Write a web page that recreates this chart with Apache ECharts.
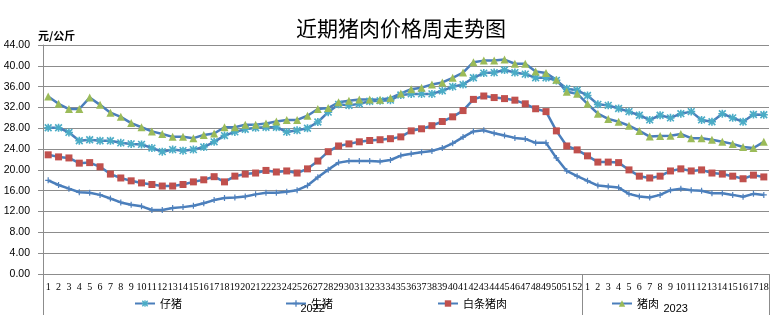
<!DOCTYPE html>
<html>
<head>
<meta charset="utf-8">
<script src="https://cdn.jsdelivr.net/npm/echarts@6/dist/echarts.min.js"></script>
<style>
html,body{margin:0;padding:0;background:#fff;}
#c{width:782px;height:326px;}
</style>
</head>
<body>
<div id="c"></div>
<script>
// ---- data ----
const years = ['2022', '2023'];
const yearWeeks = [52, 18];
const yTicks = [0, 4, 8, 12, 16, 20, 24, 28, 32, 36, 40, 44];

const piglet2022 = [28.1,28.1,27.2,25.6,25.8,25.6,25.6,25.2,25.0,24.9,24.2,23.5,23.9,23.7,23.9,24.4,25.4,26.6,27.3,27.8,28.1,28.2,28.2,27.3,27.6,28.0,29.2,31.1,32.6,32.4,32.7,33.2,33.3,33.4,34.4,34.6,34.6,34.6,35.2,36.0,36.4,37.7,38.6,38.7,39.2,38.7,38.4,37.7,37.7,37.2,35.6,35.3];
const piglet2023 = [34.3,32.6,32.4,31.8,31.2,30.5,29.6,30.5,30.0,30.8,31.2,29.6,29.25,30.8,30.0,29.25,30.65,30.6];

const hog2022 = [18.0,17.1,16.4,15.7,15.6,15.2,14.5,13.75,13.3,13.0,12.3,12.3,12.7,12.85,13.1,13.6,14.2,14.6,14.7,14.9,15.3,15.6,15.6,15.8,16.1,17.0,18.6,20.05,21.4,21.7,21.7,21.7,21.6,21.9,22.75,23.1,23.4,23.65,24.2,25.1,26.3,27.4,27.6,27.05,26.6,26.15,25.95,25.2,25.2,22.3,19.8,18.8];
const hog2023 = [17.9,17.0,16.8,16.6,15.4,14.9,14.7,15.2,16.1,16.4,16.1,16.0,15.5,15.5,15.2,14.85,15.4,15.2];

const carcass2022 = [22.9,22.5,22.3,21.3,21.4,20.6,19.2,18.45,17.9,17.5,17.2,16.9,16.9,17.2,17.7,18.1,18.7,17.7,18.8,19.2,19.4,19.9,19.6,19.8,19.4,20.2,21.7,23.5,24.6,25.0,25.4,25.65,25.8,26.0,26.35,27.5,27.9,28.5,29.3,30.2,31.4,33.55,34.2,33.9,33.7,33.4,32.7,31.75,31.2,27.5,24.6,23.85];
const carcass2023 = [22.7,21.5,21.5,21.4,20.0,18.8,18.45,18.8,19.8,20.2,19.8,20.0,19.4,19.2,18.8,18.3,19.0,18.65];

const pork2022 = [34.1,32.7,31.7,31.7,33.9,32.5,31.0,30.2,29.0,28.2,27.4,26.9,26.35,26.35,26.1,26.7,27.0,28.2,28.2,28.7,28.7,28.9,29.3,29.6,29.6,30.4,31.7,31.9,33.0,33.3,33.55,33.55,33.5,33.8,34.7,35.5,35.8,36.4,36.8,37.7,38.7,40.7,41.0,41.0,41.2,40.4,40.4,38.9,38.6,37.3,35.0,34.65];
const pork2023 = [32.7,30.8,29.8,29.25,28.5,27.5,26.4,26.5,26.55,26.9,26.1,26.1,25.8,25.4,25.0,24.4,24.2,25.4];

const seriesNames = ['仔猪', '生猪', '白条猪肉', '猪肉'];

// ---- build ----
const categories = [];
yearWeeks.forEach(n => { for (let i = 1; i <= n; i++) categories.push(String(i)); });
const total = categories.length;
const boundaries = [0];
yearWeeks.forEach(n => boundaries.push(boundaries[boundaries.length - 1] + n));
const yearCenters = yearWeeks.map((n, i) => boundaries[i] + n / 2);

const lineColor = '#4a7ebb';
const asterisk = 'path://M-1,-5L1,-5L1,5L-1,5Z M-5,-1L5,-1L5,1L-5,1Z M-3.5,-4.9L4.9,3.5L3.5,4.9L-4.9,-3.5Z M3.5,-4.9L4.9,-3.5L-3.5,4.9L-4.9,3.5Z';
const plus = 'path://M-1,-5L1,-5L1,5L-1,5Z M-5,-1L5,-1L5,1L-5,1Z';

function mk(name, data, symbol, size, color) {
  return {
    name, type: 'line', data, xAxisIndex: 0, yAxisIndex: 0,
    symbol, symbolSize: size, showAllSymbol: true,
    lineStyle: { color: lineColor, width: 2.5 },
    itemStyle: { color },
    emphasis: { disabled: true },
    animation: false
  };
}

const grid = '#8c8c8c';
const legendBase = { top: 293, itemWidth: 20, itemHeight: 8, textStyle: { fontSize: 11, color: '#000', fontFamily: 'Noto Sans CJK SC' }, selectedMode: false };

const option = {
  animation: false,
  title: {
    text: '近期猪肉价格周走势图', left: 291, top: 13,
    textStyle: { fontSize: 21, fontWeight: 'normal', color: '#000', fontFamily: 'Noto Sans CJK SC' }
  },
  legend: [
    Object.assign({ data: [seriesNames[0]], left: 129 }, legendBase),
    Object.assign({ data: [seriesNames[1]], left: 280 }, legendBase),
    Object.assign({ data: [seriesNames[2]], left: 432 }, legendBase),
    Object.assign({ data: [seriesNames[3]], left: 606 }, legendBase)
  ],
  grid: { left: 43, right: 13, top: 45, bottom: 52, containLabel: false },
  xAxis: [
    {
      type: 'category', data: categories, boundaryGap: true, position: 'bottom',
      axisLine: { lineStyle: { color: grid } },
      axisTick: { show: false },
      axisLabel: { interval: 0, hideOverlap: false, fontSize: 10, color: '#000', fontFamily: 'Liberation Serif', margin: 8 },
      splitLine: { show: false }
    },
    {
      type: 'value', min: 0, max: total, position: 'bottom', offset: 0,
      axisLine: { show: false },
      axisTick: { show: true, customValues: boundaries, length: 41, lineStyle: { color: grid } },
      axisLabel: {
        customValues: yearCenters, margin: 29, fontSize: 11, color: '#000', fontFamily: 'Liberation Sans',
        formatter: v => { const i = yearCenters.indexOf(v); return i >= 0 ? years[i] : ''; }
      },
      splitLine: { show: false }
    }
  ],
  yAxis: {
    type: 'value', min: yTicks[0], max: yTicks[yTicks.length - 1], interval: 4,
    name: '元/公斤', nameLocation: 'end', nameGap: 4, nameMoveOverlap: false,
    nameTextStyle: { fontSize: 11, fontWeight: 'bold', color: '#000', align: 'left', padding: [0, 0, 0, -5], fontFamily: 'Noto Sans CJK SC' },
    axisLine: { show: true, lineStyle: { color: grid } },
    axisTick: { show: true, length: 5, lineStyle: { color: grid } },
    axisLabel: { formatter: v => v.toFixed(2), fontSize: 10.5, color: '#000', margin: 13, showMaxLabel: true, showMinLabel: true, hideOverlap: false, fontFamily: 'Liberation Sans' },
    splitLine: { show: true, lineStyle: { color: grid, width: 1 } }
  },
  series: [
    mk(seriesNames[0], piglet2022.concat(piglet2023), asterisk, 8, '#4bacc6'),
    mk(seriesNames[1], hog2022.concat(hog2023), plus, 6, '#4f81bd'),
    mk(seriesNames[2], carcass2022.concat(carcass2023), 'rect', 7, '#c0504d'),
    mk(seriesNames[3], pork2022.concat(pork2023), 'triangle', 8, '#9bbb59')
  ]
};
const chart = echarts.init(document.getElementById('c'), null, { renderer: 'canvas' });
chart.setOption(option);
</script>
</body>
</html>
